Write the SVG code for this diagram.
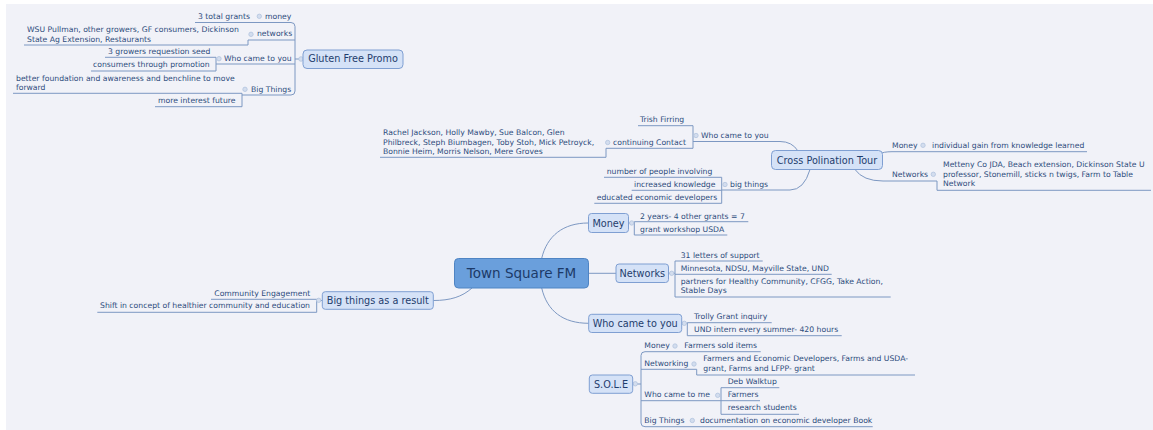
<svg xmlns="http://www.w3.org/2000/svg" width="1153" height="430" viewBox="0 0 1153 430">
<style>
text{font-family:"DejaVu Sans","Liberation Sans",sans-serif;fill:#2d4c7c}
.lf{font-size:7.7px}
.l1{font-size:9.7px;fill:#1f3d6d;text-anchor:middle}
.rt{font-size:13.5px;fill:#1c3a68;text-anchor:middle}
.bx{fill:#d5e2f7;stroke:#7f9fd2;stroke-width:1}
.rbx{fill:#6a9fdc;stroke:#4f84c3;stroke-width:1}
.cn path{fill:none;stroke:#7d98c2;stroke-width:1}
.dt{fill:#d3ddee;stroke:#b3c4de;stroke-width:0.8}
</style>
<rect x="6" y="4" width="1147" height="426" fill="#f1f2f8"/>
<g id="connectors" class="cn">
<!-- Gluten Free Promo -->
<path d="M195 22.5H291Q295 22.5 295 26.5V91Q295 95 291 95H242"/>
<path d="M248 40H295"/>
<path d="M24 45H248V40"/>
<path d="M216 64H295"/>
<path d="M295 59H303"/>
<path d="M105 57.3H216V71H91"/>
<path d="M13 93.3H242V106.7H155"/>
<!-- Cross Polination Tour -->
<path d="M798 151Q792 141.5 780 141.5H693"/>
<path d="M638 125.7H693V148.3H606"/>
<path d="M380 157.3H606V148.3"/>
<path d="M810 169.5Q804 190 790 190H721.7"/>
<path d="M604 177.3H721.7V203.3H594.3"/>
<path d="M631.7 190.3H721.7"/>
<path d="M880 154Q883 151.7 892 151.7H1087"/>
<path d="M855 169.5Q863 181 883 181H937V190.3H1151"/>
<!-- Town Square FM -->
<path d="M541.7 258.3C547 236 563 223 588.3 223"/>
<path d="M588.3 273.3H616"/>
<path d="M541.7 288C547 311 563 323.3 588.7 323.3"/>
<path d="M472 288C462 297 450 300.5 433.3 300.5"/>
<path d="M628.5 223H634.3"/>
<path d="M748.3 221.7H634.3V235H727.3"/>
<path d="M668.5 273.3H675"/>
<path d="M762.7 261H675V297H890.7"/>
<path d="M675 274.3H831.7"/>
<path d="M681.7 323.3H687.3"/>
<path d="M771.7 322.7H687.3V335.7H841.7"/>
<!-- S.O.L.E -->
<path d="M632.7 384H641"/>
<path d="M760.7 351.7H645Q641 351.7 641 355.5V423Q641 426.7 645 426.7H872.7"/>
<path d="M641 369.3H696.7V375H915"/>
<path d="M641 400.7H721"/>
<path d="M779.3 387.7H721V414.3H799"/>
<path d="M721 400.7H760"/>
<!-- Big things as a result -->
<path d="M316.7 300.5H322.3"/>
<path d="M211 299.3H316.7V312.3H97.3"/>
</g>
<g id="dots">
<circle class="dt" cx="301" cy="59" r="2.3"/>
<circle class="dt" cx="259.3" cy="16.3" r="2.2"/>
<circle class="dt" cx="251" cy="34.3" r="2.2"/>
<circle class="dt" cx="219" cy="58.7" r="2.2"/>
<circle class="dt" cx="245" cy="89.3" r="2.2"/>
<circle class="dt" cx="696" cy="135.5" r="2.2"/>
<circle class="dt" cx="607.7" cy="142.5" r="2.2"/>
<circle class="dt" cx="725" cy="184.5" r="2.2"/>
<circle class="dt" cx="923" cy="145.3" r="2.2"/>
<circle class="dt" cx="933.3" cy="174.3" r="2.2"/>
<circle class="dt" cx="631.7" cy="223" r="2.2"/>
<circle class="dt" cx="671.7" cy="273.3" r="2.2"/>
<circle class="dt" cx="684.3" cy="323.3" r="2.2"/>
<circle class="dt" cx="635.3" cy="383.8" r="2.2"/>
<circle class="dt" cx="675" cy="346" r="2.2"/>
<circle class="dt" cx="694" cy="364" r="2.2"/>
<circle class="dt" cx="717.7" cy="395.3" r="2.2"/>
<circle class="dt" cx="692.3" cy="420.5" r="2.2"/>
<circle class="dt" cx="318.7" cy="300.3" r="2.2"/>
</g>
<g id="town-square-fm">
<rect class="rbx" x="454.5" y="258.5" width="134" height="29.5" rx="4"/>
<text class="rt" x="521.5" y="278">Town Square FM</text>
</g>
<g id="money">
<rect class="bx" x="588.5" y="213.5" width="40" height="19" rx="3"/>
<text class="l1" x="608.5" y="227">Money</text>
</g>
<g id="money-leaves">
<text class="lf" x="640" y="219">2 years- 4 other grants = 7</text>
<text class="lf" x="640" y="231.7">grant workshop USDA</text>
</g>
<g id="networks">
<rect class="bx" x="616" y="264" width="52.5" height="18.5" rx="3"/>
<text class="l1" x="642.3" y="277">Networks</text>
</g>
<g id="networks-leaves">
<text class="lf" x="680.7" y="258.3">31 letters of support</text>
<text class="lf" x="680.7" y="271">Minnesota, NDSU, Mayville State, UND</text>
<text class="lf" x="680.7" y="283.7">partners for Healthy Community, CFGG, Take Action,</text>
<text class="lf" x="680.7" y="293">Stable Days</text>
</g>
<g id="who-came-to-you">
<rect class="bx" x="588.7" y="314.3" width="93" height="18.2" rx="3"/>
<text class="l1" x="635.2" y="327">Who came to you</text>
</g>
<g id="who-came-to-you-leaves">
<text class="lf" x="694" y="319">Trolly Grant inquiry</text>
<text class="lf" x="694" y="332">UND intern every summer- 420 hours</text>
</g>
<g id="big-things-as-a-result">
<rect class="bx" x="322.3" y="291.7" width="111" height="17.6" rx="3"/>
<text class="l1" x="377.8" y="303.7">Big things as a result</text>
</g>
<g id="big-things-leaves">
<text class="lf" x="214.3" y="295.7">Community Engagement</text>
<text class="lf" x="100" y="308.3">Shift in concept of healthier community and education</text>
</g>
<g id="sole">
<rect class="bx" x="589.3" y="375" width="43.4" height="18.3" rx="3"/>
<text class="l1" x="611" y="387.7">S.O.L.E</text>
</g>
<g id="sole-branches">
<text class="lf" x="644.3" y="348.3">Money</text>
<text class="lf" x="684.3" y="348.3">Farmers sold items</text>
<text class="lf" x="644.3" y="365.7">Networking</text>
<text class="lf" x="703.3" y="361.3">Farmers and Economic Developers, Farms and USDA-</text>
<text class="lf" x="703.3" y="370.7">grant, Farms and LFPP- grant</text>
<text class="lf" x="644.3" y="397">Who came to me</text>
<text class="lf" x="727.7" y="383.7">Deb Walktup</text>
<text class="lf" x="727.7" y="397">Farmers</text>
<text class="lf" x="727.7" y="409.7">research students</text>
<text class="lf" x="644.3" y="422.7">Big Things</text>
<text class="lf" x="700" y="422.7">documentation on economic developer Book</text>
</g>
<g id="cross-polination-tour">
<rect class="bx" x="771.5" y="150.5" width="111" height="19" rx="4"/>
<text class="l1" x="827" y="163.7">Cross Polination Tour</text>
</g>
<g id="cross-polination-branches">
<text class="lf" x="701" y="138">Who came to you</text>
<text class="lf" x="640" y="122">Trish Firring</text>
<text class="lf" x="613" y="144.7">continuing Contact</text>
<text class="lf" x="383" y="135.3">Rachel Jackson, Holly Mawby, Sue Balcon, Glen</text>
<text class="lf" x="383" y="144.7">Philbreck, Steph Biumbagen, Toby Stoh, Mick Petroyck,</text>
<text class="lf" x="383" y="154">Bonnie Heim, Morris Nelson, Mere Groves</text>
<text class="lf" x="730" y="186.7">big things</text>
<text class="lf" x="606.7" y="173.7">number of people involving</text>
<text class="lf" x="634" y="186.7">increased knowledge</text>
<text class="lf" x="596.7" y="200">educated economic developers</text>
<text class="lf" x="892" y="148">Money</text>
<text class="lf" x="932" y="148">individual gain from knowledge learned</text>
<text class="lf" x="892" y="177">Networks</text>
<text class="lf" x="943" y="167">Metteny Co JDA, Beach extension, Dickinson State U</text>
<text class="lf" x="943" y="177">professor, Stonemill, sticks n twigs, Farm to Table</text>
<text class="lf" x="943" y="186.3">Network</text>
</g>
<g id="gluten-free-promo">
<rect class="bx" x="303" y="50" width="100" height="18.5" rx="4"/>
<text class="l1" x="353" y="62.3">Gluten Free Promo</text>
</g>
<g id="gluten-free-branches">
<text class="lf" x="265" y="19">money</text>
<text class="lf" x="198" y="19">3 total grants</text>
<text class="lf" x="257" y="36">networks</text>
<text class="lf" x="27" y="32.3">WSU Pullman, other growers, GF consumers, Dickinson</text>
<text class="lf" x="27" y="41.7">State Ag Extension, Restaurants</text>
<text class="lf" x="224" y="61">Who came to you</text>
<text class="lf" x="108" y="54.3">3 growers requestion seed</text>
<text class="lf" x="93" y="67.3">consumers through promotion</text>
<text class="lf" x="251" y="92">Big Things</text>
<text class="lf" x="16" y="81">better foundation and awareness and benchline to move</text>
<text class="lf" x="16" y="90.3">forward</text>
<text class="lf" x="158" y="103">more interest future</text>
</g>
</svg>
